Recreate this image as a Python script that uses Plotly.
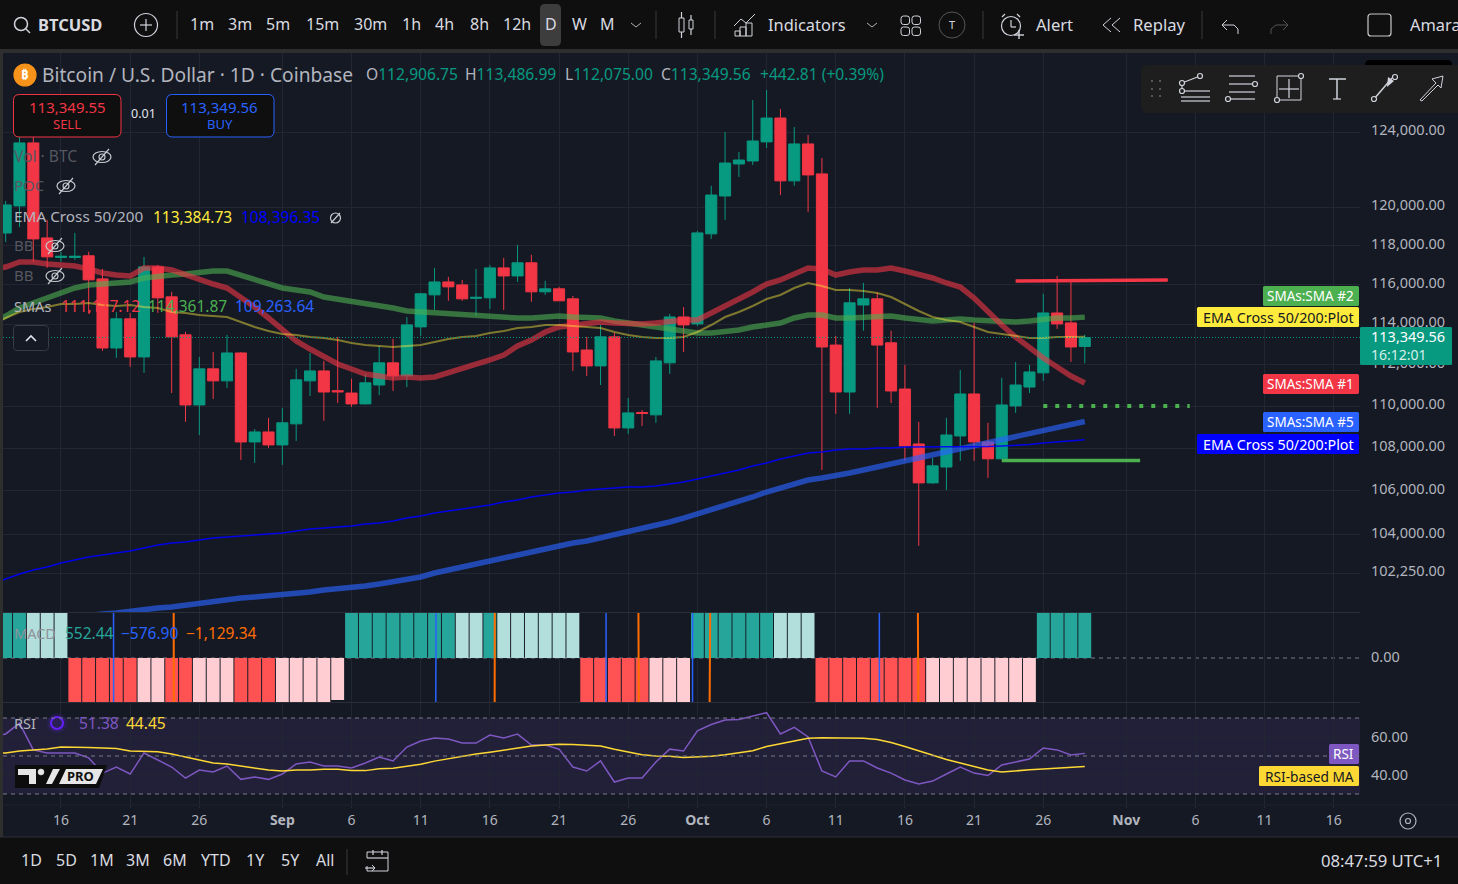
import math
import pandas as pd
import plotly.graph_objects as go

W, H = 1458, 884
dates = [d.strftime("%Y-%m-%d") for d in pd.date_range("2025-08-11", periods=80)]

open_ = [118400,118645,120060,123410,118390,117385,117385,117470,116290,112830,114275,
112390,116900,115380,113480,110055,111805,111220,112585,108290,108765,
108150,109150,111220,111705,110745,110630,110105,111020,112100,111465,
113875,115480,116135,115985,115305,115330,116850,116440,117110,115635,
115785,115280,112730,111950,113380,108955,109695,109580,112100,114370,
114025,118600,120580,122280,122440,123465,124760,121380,123355,121750,
112975,110680,114970,115280,113085,110825,108195,106370,107110,108575,
110585,108290,107495,110010,110920,111610,114570,114075,112906.75]
high = [119000,120320,123730,123730,119330,117675,118650,117675,116795,114620,114570,
117415,117000,115635,113630,112390,112635,113480,112635,108905,109435,
109915,111805,112585,112195,113380,111320,111560,112930,113285,114370,
115585,116850,116390,116240,116795,117000,117365,118030,117520,116190,
115885,115430,113380,113975,113580,110390,109815,112390,114520,114870,
118755,121115,124000,122920,125745,126295,125250,124270,123840,122600,
113430,115835,116090,115585,113680,112000,109245,107540,109435,111755,
114075,109200,111365,112145,112000,115535,116440,116135,113486.99]
low = [118000,118185,118955,117165,116850,117165,117265,114570,112685,112340,111900,
111610,114570,110630,109245,108620,110345,110875,107445,107305,108010,
107210,108340,110490,109295,110150,109960,110080,110535,110730,110920,
113430,114720,115180,115180,114420,114770,114720,116135,115130,115480,
115180,111705,111465,111020,108575,108670,109050,109200,111560,112635,
113925,118340,119330,121590,122225,123140,120630,121115,119745,106970,
109625,109625,113680,109915,110150,107400,103480,106325,106040,107400,
107400,106600,107470,109675,110630,111220,113775,112145,112075.00]
close = [118600,120110,123410,118340,117415,117445,117445,116240,112830,114275,112390,
116900,115330,113380,110055,111805,111220,112585,108290,108765,108150,
109200,111270,111705,110680,110685,110105,111125,112100,111465,113975,
115535,116135,115885,115280,115355,116850,116440,117110,115635,115785,
115180,112635,111950,113380,108955,109675,109650,112195,114370,113975,
118650,120630,122330,122490,123515,124760,121380,123355,121695,112880,
110680,115080,115280,112975,110730,108100,106370,107165,108620,110585,
108290,107495,110055,111020,111655,114570,114025,112880,113349.56]

sma1 = [116793,116895,117151,117151,117049,116998,116947,116793,116589,116487,116436,
116844,116844,116742,116487,116284,116030,115827,115372,114869,114318,
113720,113175,112779,112386,112043,111798,111554,111457,111359,111408,
111359,111408,111603,111847,111994,112239,112484,112928,113224,113621,
113869,113969,114069,114118,114069,114019,114019,114069,114168,114218,
114218,114568,114869,115271,115625,116030,116233,116539,116844,116793,
116487,116640,116742,116742,116844,116691,116539,116335,116081,115878,
115321,114618,113969,113373,112829,112337,111896,111457,111117.12]
sma2 = [114118,114418,114818,115070,115372,115625,115827,115980,116030,116081,116131,
116335,116437,116487,116539,116640,116691,116691,116487,116233,116030,
115827,115726,115625,115372,115271,115120,115020,114919,114818,114668,
114618,114568,114518,114468,114418,114368,114318,114318,114318,114368,
114418,114368,114368,114318,114168,114069,113919,113869,113770,113670,
113571,113571,113621,113720,113869,113969,114069,114318,114468,114468,
114318,114318,114368,114418,114418,114318,114218,114168,114218,114268,
114218,114168,114118,114118,114168,114268,114318,114318,114361.87]
sma5 = [99875,99963,100050,100138,100182,100270,100314,100401,100445,100489,100577,
100621,100709,100753,100841,100930,100974,101062,101150,101194,101239,
101283,101328,101416,101505,101549,101638,101683,101771,101860,101949,
102083,102262,102396,102575,102709,102844,102979,103069,103205,103340,
103476,103612,103702,103838,104020,104157,104293,104430,104567,104749,
104933,105163,105347,105531,105716,105947,106133,106365,106504,106597,
106690,106830,106970,107110,107251,107439,107580,107721,107815,108003,
108145,108240,108382,108524,108667,108810,108953,109095,109263.64]
ema50 = [113969,114318,114618,114768,114869,115020,115020,115070,114969,114919,114969,
114869,114818,114618,114568,114468,114418,114368,114118,113869,113670,
113522,113472,113373,113323,113224,113076,112977,112928,112878,112928,
112977,113125,113274,113373,113423,113571,113670,113819,113869,113969,
113969,113919,113869,113819,113621,113472,113373,113323,113323,113373,
113621,113969,114368,114618,114919,115271,115473,115827,116081,115929,
115726,115726,115675,115574,115372,115020,114668,114368,114218,114118,
113869,113621,113522,113423,113323,113323,113373,113373,113384.73]
ema200 = [101727,101994,102217,102396,102530,102709,102844,102979,103069,103160,103250,
103385,103521,103612,103657,103747,103838,103884,103929,103975,104020,
104065,104157,104248,104293,104339,104384,104476,104521,104612,104749,
104841,104979,105071,105163,105255,105347,105485,105577,105716,105808,
105901,105947,106040,106086,106133,106179,106179,106226,106319,106411,
106550,106690,106830,106970,107157,107298,107486,107627,107768,107815,
107909,107956,107956,108003,108003,108050,108050,108050,108050,108050,
108050,108074,108098,108122,108169,108240,108287,108335,108396.35]

hist = [280,300,340,300,230,150,-60,-180,-310,-420,-510,
-440,-390,-430,-520,-480,-420,-360,-430,-520,-600,
-530,-430,-320,-180,-0.924,60,130,200,260,330,
400,460,510,500,470,490,470,430,380,330,
270,200,-70,-200,-500,-560,-640,-590,-480,-370,
300,400,470,520,570,640,560,500,380,-100,
-200,-260,-310,-360,-700,-830,-960,-920,-850,-760,
-700,-620,-450,-300,-150,60,230,390,552.44]
signal = [850,900,950,980,960,900,820,730,630,340,250,
160,90,30,-170,-240,-290,-330,-380,-440,-500,
-540,-570,-590,-590,-570,-540,-520,-510,-500,-490,
-480,-470,-420,-350,-230,-70,130,270,370,430,
460,470,450,400,200,60,-20,-90,-130,-100,
-47,5,100,220,340,460,600,700,770,760,
650,600,530,450,200,60,-3,-200,-400,-600,
-800,-950,-1060,-1130,-1150,-1160,-1160,-1150,-1129.34]
macd = [s + h for s, h in zip(signal, hist)]

rsi = [60,61.6,67.3,53.2,51.6,51.6,51.6,49,41,44.2,40.5,
51.6,48,44.2,38.4,42.6,41.6,44.7,37.7,39,37.7,
40.5,45.8,46.8,44.7,44.7,43.7,46.3,49.5,47.4,54.7,
57.9,59.5,58.9,56.8,56.8,61,59.5,61.5,55.8,55.8,
53.6,44.2,42.1,47.4,36.3,38.4,38.4,46.8,53.6,52.6,
63.2,66.6,68.9,69.2,71,72.8,61.6,65.1,60,42.1,
39,47.4,47.4,43.7,41,37.4,35.3,36.8,40.5,44.2,
41,39.7,45.3,46.8,48.4,54.2,53.2,50.5,51.38]
rsi_ma = [51.2,51.6,52.6,53.2,53.7,54.7,54.7,54.5,54.2,54,52.6,
52.5,52.2,51,49.5,48,46.3,45.8,44.7,43.8,42.6,
42.1,42.6,42.6,43,43,42.3,42.3,43.3,43.6,44.6,
45.7,47.3,48.6,49.8,51,52,53,54.2,55.3,55.8,
56.2,56,55.7,55.3,53.5,51.9,50.6,50,49.8,49.2,
49.4,49.8,50.6,51.6,52.8,55,56.4,57.7,59.4,59.6,
59.6,59.6,59.4,58.7,57.1,55,52.7,50.3,48.2,46.3,
44.6,42.6,41.6,42,42.7,43.2,43.5,43.9,44.45]

resistance_dates = ["2025-10-24", "2025-11-04"]
resistance = [116182, 116233]
support_dates = ["2025-10-23", "2025-11-02"]
support = [107415, 107415]
target_dates = ["2025-10-26", "2025-11-05 14:00"]
target = [110005, 110005]

price_ticks = [102250,104000,106000,108000,110000,112000,114000,116000,118000,120000,124000]
time_ticks = ["2025-08-16","2025-08-21","2025-08-26","2025-09-01","2025-09-06","2025-09-11","2025-09-16",
              "2025-09-21","2025-09-26","2025-10-01","2025-10-06","2025-10-11","2025-10-16","2025-10-21",
              "2025-10-26","2025-11-01","2025-11-06","2025-11-11","2025-11-16"]
time_labels = ["16","21","26","<b>Sep</b>","6","11","16","21","26","<b>Oct</b>","6","11","16","21","26","<b>Nov</b>","6","11","16"]
x_view = ["2025-08-11 19:24", "2025-11-17 21:26"]

UP, DOWN = "#089981", "#f23645"
BG, BAR, GRID = "#151924", "#0f0f0f", "#222633"
TXT = "#b2b5be"
FONT = "Noto Sans"

def X(p): return p / W
def Y(p): return 1 - p / H

shapes, annos = [], []

def rect(x0, y0, x1, y1, fill="rgba(0,0,0,0)", line=None, lw=1, layer="above"):
    shapes.append(dict(type="rect", xref="paper", yref="paper", x0=X(x0), x1=X(x1), y0=Y(y1), y1=Y(y0),
                       fillcolor=fill, line=dict(color=line or "rgba(0,0,0,0)", width=lw if line else 0), layer=layer))

def rrect(x0, y0, x1, y1, r=4, fill="rgba(0,0,0,0)", line=None, lw=1):
    p = lambda x, y: f"{X(x):.6f},{Y(y):.6f}"
    path = (f"M{p(x0+r,y0)} L{p(x1-r,y0)} Q{p(x1,y0)} {p(x1,y0+r)} L{p(x1,y1-r)} Q{p(x1,y1)} {p(x1-r,y1)} "
            f"L{p(x0+r,y1)} Q{p(x0,y1)} {p(x0,y1-r)} L{p(x0,y0+r)} Q{p(x0,y0)} {p(x0+r,y0)} Z")
    shapes.append(dict(type="path", xref="paper", yref="paper", path=path, fillcolor=fill,
                       line=dict(color=line or "rgba(0,0,0,0)", width=lw if line else 0), layer="above"))

def poly(pts, fill="rgba(0,0,0,0)", line=None, lw=1, closed=True):
    d = "M" + " L".join(f"{X(a):.6f},{Y(b):.6f}" for a, b in pts) + (" Z" if closed else "")
    shapes.append(dict(type="path", xref="paper", yref="paper", path=d, fillcolor=fill,
                       line=dict(color=line or "rgba(0,0,0,0)", width=lw if line else 0), layer="above"))

def ln(x0, y0, x1, y1, color="#d1d4dc", lw=1.2, dash="solid"):
    shapes.append(dict(type="line", xref="paper", yref="paper", x0=X(x0), x1=X(x1), y0=Y(y0), y1=Y(y1),
                       line=dict(color=color, width=lw, dash=dash), layer="above"))

def circ(cx, cy, rx, ry=None, line="#d1d4dc", lw=1.2, fill="rgba(0,0,0,0)"):
    ry = ry or rx
    shapes.append(dict(type="circle", xref="paper", yref="paper", x0=X(cx-rx), x1=X(cx+rx), y0=Y(cy+ry), y1=Y(cy-ry),
                       line=dict(color=line, width=lw), fillcolor=fill, layer="above"))

def txt(x, y, s, size=14, color="#d1d4dc", anchor="left", family=FONT):
    annos.append(dict(xref="paper", yref="paper", x=X(x), y=Y(y-1), text=s, showarrow=False, xanchor=anchor, yanchor="middle",
                      font=dict(size=size, color=color, family=family), borderpad=0, borderwidth=0))

def eye(cx, cy, color="#c8cad0"):
    circ(cx, cy, 9, 5.5, line=color, lw=1.2)
    circ(cx, cy, 3, line=color, lw=1.1)
    ln(cx-7, cy+8, cx+7, cy-8, color=color, lw=1.2)

# frame
rect(0, 0, W, 49, fill=BAR)
rect(0, 49, W, 53, fill="#2e2e2e")
rect(0, 53, 3, 837, fill="#2e2e2e")
rect(0, 837, W, 884, fill=BAR)
ln(0, 837, W, 837, color="#2a2e39", lw=1)
ln(3, 612.5, 1360, 612.5, color="#2a2e39", lw=1)
ln(3, 702.5, 1360, 702.5, color="#2a2e39", lw=1)
ln(3, 805, W, 805, color="#1f2330", lw=1)

# top toolbar
circ(21, 24, 6.5, line="#d1d4dc", lw=1.5)
ln(26, 29, 30, 33, lw=1.5)
txt(38, 25, "<b>BTCUSD</b>", 16.5, "#d9dbe0")
circ(146, 25, 11.5)
ln(146, 19, 146, 31); ln(140, 25, 152, 25)
ln(177, 11, 177, 39, color="#3a3a3a", lw=1)
rrect(540, 4, 561, 46, r=5, fill="#3d3d3d")
for s, x in zip(["1m","3m","5m","15m","30m","1h","4h","8h","12h","D","W","M"],
                [202,240,278,322,370,411,444,479,517,551,579,607]):
    txt(x, 25, s, 16, "#d9dbe0", "center")
poly([(631,23),(636,27),(641,23)], line="#b0b0b0", closed=False)
ln(656, 11, 656, 39, color="#3a3a3a", lw=1)
rect(679, 18, 684, 32, line="#d1d4dc"); ln(681.5, 12, 681.5, 18); ln(681.5, 32, 681.5, 38)
rect(689, 20, 693, 29, line="#d1d4dc"); ln(691, 15, 691, 20); ln(691, 29, 691, 35)
ln(715, 11, 715, 39, color="#3a3a3a", lw=1)
rect(735, 31, 740, 36, line="#d1d4dc"); rect(740, 27, 746, 36, line="#d1d4dc"); rect(746, 23, 752, 36, line="#d1d4dc")
poly([(734,26),(741,19),(746,23),(755,14)], line="#d1d4dc", closed=False)
txt(768, 25, "Indicators", 16.4, "#d9dbe0")
poly([(867,23),(872,27),(877,23)], line="#b0b0b0", closed=False)
for a in (901, 912):
    for b in (16, 27):
        rrect(a, b, a+8.5, b+8.5, r=2.5, line="#d1d4dc")
circ(952, 25, 13, line="#555", lw=1)
txt(952, 25, "T", 11, "#d1d4dc", "center")
ln(983, 11, 983, 39, color="#3a3a3a", lw=1)
circ(1011, 26, 9.5)
ln(1011, 20, 1011, 27); ln(1011, 27, 1016, 27)
ln(1002, 17, 1005, 14); ln(1020, 17, 1017, 14)
ln(1019, 30, 1019, 39, lw=1.4); ln(1014, 35, 1024, 35, lw=1.4)
txt(1036, 25, "Alert", 16.6, "#d9dbe0")
poly([(1111,18),(1103,25),(1111,32)], line="#d1d4dc", closed=False)
poly([(1120,18),(1112,25),(1120,32)], line="#d1d4dc", closed=False)
txt(1133, 25, "Replay", 16.6, "#d9dbe0")
ln(1202, 11, 1202, 39, color="#3a3a3a", lw=1)
poly([(1227,20),(1222,25),(1227,30)], line="#d1d4dc", closed=False)
poly([(1222,25),(1234,25),(1238,29),(1238,34)], line="#d1d4dc", closed=False)
poly([(1283,20),(1288,25),(1283,30)], line="#555", closed=False)
poly([(1288,25),(1276,25),(1271,29),(1271,34)], line="#555", closed=False)
rrect(1368, 14, 1391, 36, r=3, line="#c8c8c8", lw=1.2)
txt(1410, 25, "Amara", 16.4, "#d9dbe0")

# drawing palette
rrect(1365, 60, 1452, 75, r=5, fill="#000000")
rrect(1141, 65, 1470, 113, r=7, fill="#1e1e1e")
for a in (1152, 1160):
    for b in (81, 89, 96):
        rect(a-1, b-1, a+1, b+1, fill="#555555")
for y in (91, 97, 101):
    ln(1181, y, 1210, y)
ln(1182, 83, 1200, 76)
ln(1182, 83, 1182, 91)
for c in [(1182,83),(1182,91),(1200,76)]:
    circ(*c, 2.5, fill="#1e1e1e")
for y in (76, 84, 92, 99):
    ln(1229, y, 1255, y)
circ(1255, 84, 2.5, fill="#1e1e1e"); circ(1228, 99, 2.5, fill="#1e1e1e")
rect(1277, 76, 1301, 100, line="#d1d4dc")
ln(1289, 79, 1289, 98); ln(1279, 89, 1299, 89)
circ(1277, 100, 2.5, fill="#1e1e1e"); circ(1301, 76, 2.5, fill="#1e1e1e")
ln(1329, 79, 1346, 79, lw=1.5); ln(1337, 79, 1337, 99, lw=1.5); ln(1333, 99, 1341, 99)
ln(1374, 99, 1392, 78, lw=1.5); circ(1374, 99, 2.5, fill="#1e1e1e"); circ(1395, 77, 2.5, fill="#1e1e1e")
poly([(1388,77),(1394,81),(1387,87)], fill="#d1d4dc")
poly([(1420,100),(1436,83),(1432,79),(1443,76),(1441,88),(1438,85),(1422,101)], line="#d1d4dc")

# legend
circ(25, 75, 11, line="#f7931a", fill="#f7931a")
txt(25, 75, "<b>₿</b>", 13, "#ffffff", "center")
txt(42, 75, "Bitcoin / U.S. Dollar · 1D · Coinbase", 19.2, TXT)
v = UP
txt(366, 75, f"<span style='color:{TXT}'>O</span>112,906.75", 15.6, v)
txt(465, 75, f"<span style='color:{TXT}'>H</span>113,486.99", 15.6, v)
txt(565, 75, f"<span style='color:{TXT}'>L</span>112,075.00", 15.6, v)
txt(661, 75, f"<span style='color:{TXT}'>C</span>113,349.56", 15.6, v)
txt(760, 75, "+442.81 (+0.39%)", 15.6, v)

rrect(13.5, 94.5, 121, 137, r=6, fill="#0f0f0f", line=DOWN)
txt(67, 107.5, "113,349.55", 15, DOWN, "center"); txt(67, 125.5, "SELL", 13, DOWN, "center")
txt(143, 115, "0.01", 12.5, "#e0e3eb", "center")
rrect(166.5, 94.5, 274, 137, r=6, fill="#0f0f0f", line="#2962ff")
txt(220, 107.5, "113,349.56", 15, "#2962ff", "center"); txt(220, 125.5, "BUY", 13, "#2962ff", "center")

DIM = "#55575f"
txt(14, 157, "Vol · BTC", 15.6, DIM); eye(102, 157)
txt(14, 186, "POC", 15, DIM); eye(66, 186)
txt(14, 217, "EMA Cross 50/200", 15.3, TXT)
txt(153, 218, "113,384.73", 15.5, "#ffeb3b"); txt(241, 218, "108,396.35", 15.5, "#0000ff")
circ(335.5, 218, 5, line="#c8cad0"); ln(331, 223, 340, 213, color="#c8cad0")
txt(14, 246, "BB", 15, DIM); eye(55, 246)
txt(14, 276, "BB", 15, DIM); eye(55, 276)
txt(14, 307, "SMAs", 14.5, TXT)
txt(61, 307, "111,117.12", 15.5, DOWN); txt(148, 307, "114,361.87", 15.5, "#4caf50"); txt(235, 307, "109,263.64", 15.5, "#2962ff")
rrect(13.5, 325.5, 48.5, 350.5, r=4, line="#3a3d46", fill=BG)
poly([(26,341),(31,336),(36,341)], line="#e0e3eb", lw=1.6, closed=False)

txt(14, 634, "MACD", 14.5, "#8f929c")
txt(65, 634, "552.44", 15.5, "#26a69a"); txt(121, 634, "−576.90", 15.5, "#2962ff"); txt(186, 634, "−1,129.34", 15.5, "#ff6d00")
txt(14, 724, "RSI", 14.5, TXT)
circ(57, 723, 10, line="rgba(0,0,0,0)", fill="rgba(101,31,255,0.15)")
circ(57, 723, 6, line="#651fff", lw=2)
txt(79, 724, "51.38", 15.5, "#7e57c2"); txt(126, 724, "44.45", 15.5, "#fdd835")

# TV PRO badge
poly([(15,765),(107,765),(99,788),(15,788)], fill="#0d0d0d")
poly([(18,769),(36,769),(36,784),(29,784),(29,775),(18,775)], fill="#e6e6e6")
circ(41, 772, 3, line="#e6e6e6", fill="#e6e6e6", lw=0.5)
poly([(46,784),(53,769),(60,769),(52,784)], fill="#e6e6e6")
poly([(59,784),(66,769),(103,769),(96,784)], fill="#e6e6e6")
txt(80, 777, "<b>PRO</b>", 13, "#111111", "center")

# right-hand value tags
def tag(x0, y0, y1, fill, s, color="#ffffff", size=13.5):
    rrect(x0, y0, 1359, y1, r=1.5, fill=fill)
    txt(1354, (y0+y1)/2 + 1, s, size, color, "right")

tag(1263, 286, 306, "#4caf50", "SMAs:SMA #2")
tag(1197, 307, 327, "#ffeb3b", "EMA Cross 50/200:Plot", "#131722", 14.3)
tag(1263, 374, 394, DOWN, "SMAs:SMA #1")
tag(1263, 412, 432, "#2962ff", "SMAs:SMA #5")
tag(1197, 434, 454, "#0000ff", "EMA Cross 50/200:Plot", "#ffffff", 14.3)
tag(1329, 744, 764, "#7e57c2", "RSI")
tag(1259, 766, 786, "#fdd835", "RSI-based MA", "#131722", 13.7)
rrect(1360, 327, 1452, 365, r=1.5, fill=UP)
txt(1371, 337, "113,349.56", 14.5, "#ffffff"); txt(1371, 355, "16:12:01", 14, "#d6efe9")

# gear + bottom bar
circ(1408, 821, 8, line="#b2b5be"); circ(1408, 821, 2.5, line="#b2b5be")
for s, x in zip(["1D","5D","1M","3M","6M","YTD","1Y","5Y","All"], [31,66,102,138,175,216,256,290,325]):
    txt(x, 861, s, 16, "#d9dbe0", "center")
ln(347, 849, 347, 875, color="#3a3a3a", lw=1)
rect(367, 852, 388, 871, line="#d1d4dc")
rect(360, 858, 372, 866, fill=BAR)
ln(373, 850, 373, 855); ln(382, 850, 382, 855); ln(367, 858, 388, 858)
ln(365, 868, 375, 868); poly([(372,865),(375,868),(372,871)], line="#d1d4dc", closed=False)
txt(1442, 861, "08:47:59 UTC+1", 16.7, "#d9dbe0", "right")

# panel decoration tied to indicator levels
for yv in (70, 50, 30):
    shapes.append(dict(type="line", xref="paper", yref="y3", x0=X(3), x1=X(1360), y0=yv, y1=yv,
                       line=dict(color="#787b86", width=1, dash="4px,4px"), layer="above"))
shapes.append(dict(type="line", xref="paper", yref="y2", x0=X(3), x1=X(1360), y0=0, y1=0,
                   line=dict(color="#787b86", width=1, dash="4px,4px"), layer="below"))
shapes.append(dict(type="rect", xref="paper", yref="y3", x0=X(3), x1=X(1360), y0=30, y1=70,
                   fillcolor="rgba(126,87,194,0.13)", line=dict(width=0), layer="below"))

# colours of the histogram follow the usual MACD rule
bar_colors = []
for i, h in enumerate(hist):
    rising = i == 0 or h >= hist[i-1]
    if h >= 0:
        bar_colors.append("#26a69a" if rising else "#b2dfdb")
    else:
        bar_colors.append("#ffcdd2" if rising else "#ff5252")

fig = go.Figure()
fig.add_trace(go.Bar(x=dates, y=hist, marker=dict(color=bar_colors, line=dict(width=0)), xaxis="x2", yaxis="y2"))
fig.add_trace(go.Scatter(x=dates, y=macd, mode="lines", line=dict(color="#2962ff", width=1.5), xaxis="x2", yaxis="y2"))
fig.add_trace(go.Scatter(x=dates, y=signal, mode="lines", line=dict(color="#ff6d00", width=2), xaxis="x2", yaxis="y2"))
fig.add_trace(go.Scatter(x=dates, y=rsi, mode="lines", line=dict(color="#7e57c2", width=1.5), xaxis="x3", yaxis="y3"))
fig.add_trace(go.Scatter(x=dates, y=rsi_ma, mode="lines", line=dict(color="#fdd835", width=1.5), xaxis="x3", yaxis="y3"))

fig.add_trace(go.Scatter(x=dates, y=sma5, mode="lines", line=dict(color="rgba(41,98,255,0.65)", width=5.5)))
fig.add_trace(go.Scatter(x=dates, y=ema200, mode="lines", line=dict(color="rgba(0,0,255,0.9)", width=1.5)))
fig.add_trace(go.Scatter(x=dates, y=sma2, mode="lines", line=dict(color="rgba(76,175,80,0.6)", width=5.5)))
fig.add_trace(go.Scatter(x=dates, y=sma1, mode="lines", line=dict(color="rgba(242,54,69,0.6)", width=5.5)))
fig.add_trace(go.Scatter(x=dates, y=ema50, mode="lines", line=dict(color="rgba(255,235,59,0.45)", width=2)))
fig.add_trace(go.Scatter(x=resistance_dates, y=resistance, mode="lines", line=dict(color=DOWN, width=3.5)))
fig.add_trace(go.Scatter(x=support_dates, y=support, mode="lines", line=dict(color="#4caf50", width=3.5)))
fig.add_trace(go.Scatter(x=target_dates, y=target, mode="lines", line=dict(color="#4caf50", width=4, dash="4px,8px")))
fig.add_trace(go.Scatter(x=x_view, y=[close[-1], close[-1]], mode="lines", line=dict(color=UP, width=1, dash="1px,2px")))
fig.add_trace(go.Candlestick(x=dates, open=open_, high=high, low=low, close=close,
                             increasing=dict(line=dict(color=UP, width=1), fillcolor=UP),
                             decreasing=dict(line=dict(color=DOWN, width=1), fillcolor=DOWN),
                             whiskerwidth=0))

xcommon = dict(type="date", range=x_view, domain=[X(3), X(1360)], showgrid=True, gridcolor=GRID, gridwidth=1,
               tickmode="array", tickvals=time_ticks, ticktext=time_labels, zeroline=False, showline=False,
               rangeslider=dict(visible=False), fixedrange=True)
ycommon = dict(side="right", showgrid=True, gridcolor=GRID, gridwidth=1, zeroline=False, showline=False, fixedrange=True,
               tickfont=dict(size=14.5, color=TXT, family=FONT), ticks="", tickmode="array", ticklabelstandoff=10)

fig.update_layout(
    width=W, height=H, margin=dict(l=0, r=0, t=0, b=0), autosize=False,
    paper_bgcolor=BG, plot_bgcolor=BG, showlegend=False, hovermode=False,
    bargap=0.07, boxgap=0.2, boxgroupgap=0,
    xaxis=dict(anchor="y", showticklabels=False, ticks="", **xcommon),
    xaxis2=dict(anchor="y2", showticklabels=False, ticks="", **xcommon),
    xaxis3=dict(anchor="y3", showticklabels=True, ticks="outside", ticklen=2, tickcolor="#2a2e39",
                tickfont=dict(size=14, color=TXT, family=FONT), **xcommon),
    yaxis=dict(anchor="x", type="log", domain=[Y(612), Y(53)],
               range=[math.log10(124000*math.exp(-480/2288)), math.log10(124000*math.exp(79/2288))],
               tickvals=price_ticks, tickformat=",.2f", ticklabelshift=-2, **ycommon),
    yaxis2=dict(anchor="x2", domain=[Y(702), Y(613)], range=[-0.968, 0.99], tickvals=[0], tickformat=".2f", ticklabelshift=-1,
                **{**ycommon, "showgrid": False}),
    yaxis3=dict(anchor="x3", domain=[Y(805), Y(703)], range=[24.2, 77.9], tickvals=[40, 60], tickformat=".2f", **ycommon),
    shapes=shapes, annotations=annos,
)

fig.write_html("out.html", config={"displayModeBar": False},
               post_script="document.body.style.margin='0';document.body.style.background='#151924';document.body.style.overflow='hidden';")
